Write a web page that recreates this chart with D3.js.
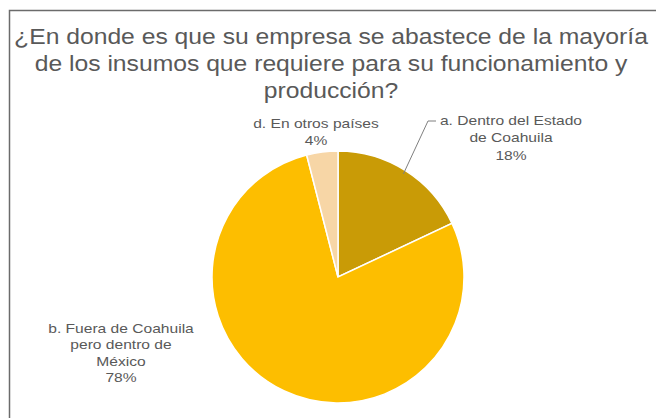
<!DOCTYPE html>
<html>
<head>
<meta charset="utf-8">
<script src="https://cdn.jsdelivr.net/npm/d3@7"></script>
<style>
  html, body { margin: 0; padding: 0; background: #fff; }
  svg { display: block; }
</style>
</head>
<body>
<svg id="chart" width="656" height="418"></svg>
<script>
// Survey answers: where companies source most of their inputs
const categories = ["a. Dentro del Estado de Coahuila", "b. Fuera de Coahuila pero dentro de México", "d. En otros países"];
const shares = [18, 78, 4];
const labelLines = [
  ["a. Dentro del Estado", "de Coahuila", "18%"],
  ["b. Fuera de Coahuila", "pero dentro de", "México", "78%"],
  ["d. En otros países", "4%"]
];
const sliceColors = ["#C99B06", "#FDBE00", "#F7D6A6"];
const titleLines = [
  "¿En donde es que su empresa se abastece de la mayoría",
  "de los insumos que requiere para su funcionamiento y",
  "producción?"
];

const svg = d3.select("#chart");
const W = 656, H = 418;
const textColor = "#595959";
const font = "Liberation Sans, Arial, sans-serif";

// Horizontal stretch around a given x
const stretch = (x, sx) => `translate(${x},0) scale(${sx},1) translate(${-x},0)`;

// Chart frame
svg.append("rect")
  .attr("x", 9.5).attr("y", 10.5)
  .attr("width", W + 10).attr("height", H + 10)
  .attr("fill", "#fff")
  .attr("stroke", "#6b6b6b").attr("stroke-width", 1.5);

// Title
svg.append("g")
  .attr("transform", stretch(331, 1.107))
  .selectAll("text")
  .data(titleLines)
  .join("text")
  .attr("x", 331)
  .attr("y", (d, i) => 44 + i * 27)
  .attr("text-anchor", "middle")
  .attr("font-family", font)
  .attr("font-size", 22.3)
  .attr("fill", textColor)
  .text(d => d);

// Pie
const cx = 338, cy = 277, r = 126;
const pie = d3.pie().sort(null).value(d => d)(shares);
const arc = d3.arc().innerRadius(0).outerRadius(r);
const g = svg.append("g").attr("transform", `translate(${cx},${cy})`);
g.selectAll("path")
  .data(pie)
  .join("path")
  .attr("d", arc)
  .attr("fill", (d, i) => sliceColors[i])
  .attr("stroke", "#fff")
  .attr("stroke-width", 1.5);

// Data labels
const labelPos = [
  { x: 511, y: 125, dy: 17.5 },
  { x: 121, y: 333, dy: 16.4 },
  { x: 316, y: 128, dy: 17 }
];
labelLines.forEach((lines, i) => {
  const p = labelPos[i];
  const t = svg.append("text")
    .attr("transform", stretch(p.x, 1.2))
    .attr("text-anchor", "middle")
    .attr("font-family", font)
    .attr("font-size", 13)
    .attr("fill", textColor);
  lines.forEach((ln, j) => {
    t.append("tspan")
      .attr("x", p.x)
      .attr("y", p.y + j * p.dy)
      .text(ln);
  });
});

// Leader line for slice a
const aMid = (pie[0].startAngle + pie[0].endAngle) / 2;
const edge = [cx + (r - 4) * Math.sin(aMid), cy - (r - 4) * Math.cos(aMid)];
svg.append("polyline")
  .attr("points", [[edge[0], edge[1]], [428, 121], [436, 121]].map(p => p.join(",")).join(" "))
  .attr("fill", "none")
  .attr("stroke", "#7f7f7f")
  .attr("stroke-width", 1);
</script>
</body>
</html>
